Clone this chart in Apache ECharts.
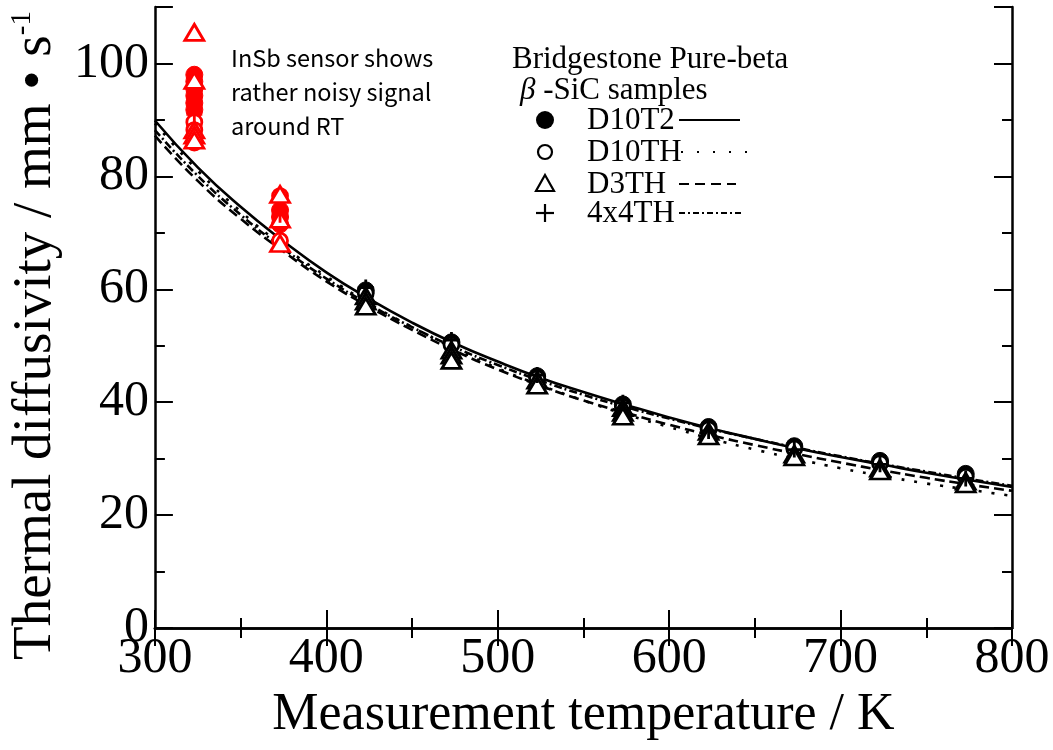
<!DOCTYPE html>
<html>
<head>
<meta charset="utf-8">
<script src="https://cdn.jsdelivr.net/npm/echarts@6/dist/echarts.min.js"></script>
<style>html,body{margin:0;padding:0;background:#fff}#c{width:1053px;height:750px}</style>
</head>
<body>
<div id="c"></div>
<script>
// ---- data ----
const xTicks = [300, 400, 500, 600, 700, 800];
const yTicks = [0, 20, 40, 60, 80, 100];
const fitTemps = [300,325,350,375,400,425,450,475,500,525,550,575,600,625,650,675,700,725,750,775,800];
const fitD10T2 = [89.9,81.6,74.6,68.5,63.0,58.3,54.1,50.4,47.2,44.3,41.8,39.5,37.3,35.3,33.5,31.8,30.3,28.9,27.5,26.2,25.0];
const fitD10TH = [89.4,81.0,73.8,67.6,62.3,57.5,53.3,49.5,46.0,43.0,40.3,37.8,35.6,33.5,31.6,29.9,28.3,26.9,25.6,24.5,23.4];
const fitD3TH  = [87.2,79.2,72.5,66.7,61.4,56.9,52.8,49.1,45.8,42.9,40.3,38.1,36.0,34.1,32.4,30.8,29.3,27.9,26.6,25.4,24.3];
const fit4x4TH = [88.2,80.1,73.2,67.2,61.9,57.3,53.3,49.7,46.6,43.8,41.3,39.1,37.1,35.2,33.5,31.9,30.4,29.0,27.7,26.4,25.2];

// measured points around RT (InSb sensor, red)
const rtD10T2 = [[323,98.0],[323,96.8],[323,95.5],[323,94.3],[323,93.0],[323,91.8],[373,74.0],[373,72.8],[373,71.5]];
const rtD10TH = [[323,89.6],[323,88.2],[323,86.0],[373,76.5],[373,68.6]];
const rtD3TH  = [[323,105.5],[323,97.0],[323,88.2],[323,87.3],[323,86.4],[373,76.8],[373,72.4],[373,68.1]];
const rt4x4TH = [[323,94.0],[323,91.0],[373,73.2]];

// measured points at higher temperature (black)
const hiD10T2 = [[423,59.8],[473,50.6],[523,44.6],[573,39.6],[623,35.6],[673,32.2],[723,29.6],[773,27.3]];
const hiD10TH = [[423,59.3],[473,50.2],[523,44.2],[573,39.2],[623,35.2],[673,31.8],[723,29.2],[773,26.8]];
const hiD3TH  = [[423,58.8],[423,57.9],[423,57.0],[473,49.2],[473,48.3],[473,47.4],[523,43.9],[523,43.0],
                 [573,39.0],[573,38.2],[573,37.5],[623,34.8],[623,34.0],[673,30.8],[673,30.3],[723,28.3],[723,27.8],[773,26.0],[773,25.5]];
const hi4x4TH = [[423,60.3],[473,51.0],[523,44.8],[573,39.9],[623,34.9],[673,31.6],[723,29.0],[773,26.5]];

const sampleNames = ['D10T2', 'D10TH', 'D3TH', '4x4TH'];
const noteLines = ['InSb sensor shows', 'rather noisy signal', 'around RT'];

// ---- chart ----
const SERIF = '"Liberation Serif", "Times New Roman", serif';
const RED = '#ff0000';
const BLK = '#000000';
const PLUS = 'path://M7,0L7,14M0,7L14,7';

const chart = echarts.init(document.getElementById('c'), null, {renderer: 'canvas'});

function fitLine(temps, vals, dash, width) {
  return {
    type: 'line', data: temps.map((t, i) => [t, vals[i]]), smooth: true, showSymbol: false, silent: true,
    lineStyle: {color: BLK, width: width, type: dash}, z: 2
  };
}
function pts(data, kind, color) {
  const s = {type: 'scatter', data: data, silent: true, z: color === RED ? 5 : 4};
  if (kind === 'filled') { s.symbol = 'circle'; s.symbolSize = 17; s.itemStyle = {color: color, borderColor: color, borderWidth: 1, opacity: 1}; }
  if (kind === 'open') { s.symbol = 'circle'; s.symbolSize = 15; s.itemStyle = {color: '#fff', borderColor: color, borderWidth: 2.8, opacity: 1}; }
  if (kind === 'tri') { s.symbol = 'triangle'; s.symbolSize = [19, 16]; s.itemStyle = {color: '#fff', borderColor: color, borderWidth: 2.8, opacity: 1}; }
  if (kind === 'plus') { s.symbol = PLUS; s.symbolSize = 16; s.itemStyle = {color: 'none', borderColor: color, borderWidth: 2.8, opacity: 1}; }
  return s;
}

const tickStyle = {color: BLK, width: 2};
const axisLineStyle = {lineStyle: {color: BLK, width: 2.5}};

const legendX = 545, textX = 587, lineX1 = 679;
const rowsY = [120, 152, 184, 213];

const graphic = [
  {type: 'text', x: 512, y: 60, style: {text: 'Bridgestone Pure-beta', fontSize: 31, fontFamily: SERIF, fill: BLK, verticalAlign: 'middle', textVerticalAlign: 'middle'}},
  {type: 'text', x: 520, y: 91, style: {text: '{i|β} -SiC samples', fontSize: 31, fontFamily: SERIF, fill: BLK, verticalAlign: 'middle', textVerticalAlign: 'middle',
     rich: {i: {fontStyle: 'italic', fontSize: 31, fontFamily: SERIF, fill: BLK}}}},
  {type: 'circle', shape: {cx: legendX, cy: rowsY[0], r: 9}, style: {fill: BLK}},
  {type: 'circle', shape: {cx: legendX, cy: rowsY[1], r: 7}, style: {fill: '#fff', stroke: BLK, lineWidth: 2.2}},
  {type: 'polygon', shape: {points: [[legendX, rowsY[2] - 9], [legendX + 9, rowsY[2] + 7], [legendX - 9, rowsY[2] + 7]]}, style: {fill: '#fff', stroke: BLK, lineWidth: 2.2}},
  {type: 'line', shape: {x1: legendX - 9, y1: rowsY[3], x2: legendX + 9, y2: rowsY[3]}, style: {stroke: BLK, lineWidth: 2.2}},
  {type: 'line', shape: {x1: legendX, y1: rowsY[3] - 9, x2: legendX, y2: rowsY[3] + 9}, style: {stroke: BLK, lineWidth: 2.2}},
  {type: 'line', shape: {x1: lineX1, y1: rowsY[0], x2: 740, y2: rowsY[0]}, style: {stroke: BLK, lineWidth: 2}},
  {type: 'line', shape: {x1: lineX1 + 2, y1: rowsY[1], x2: 750, y2: rowsY[1]}, style: {stroke: BLK, lineWidth: 2, lineDash: [2, 14]}},
  {type: 'line', shape: {x1: lineX1, y1: rowsY[2], x2: 736, y2: rowsY[2]}, style: {stroke: BLK, lineWidth: 2, lineDash: [10, 6]}},
  {type: 'line', shape: {x1: lineX1, y1: rowsY[3], x2: 742, y2: rowsY[3]}, style: {stroke: BLK, lineWidth: 2, lineDash: [6, 3, 2, 3]}}
];
sampleNames.forEach((n, i) => {
  graphic.push({type: 'text', x: textX, y: rowsY[i] + 1, style: {text: n, fontSize: 31, fontFamily: SERIF, fill: BLK, verticalAlign: 'middle', textVerticalAlign: 'middle'}});
});
noteLines.forEach((t, i) => {
  graphic.push({type: 'text', x: 231, y: 58 + i * 34, style: {text: t, fontSize: 23.5, fontFamily: '"Noto Sans CJK JP", "Noto Sans", sans-serif', fill: BLK, verticalAlign: 'middle', textVerticalAlign: 'middle'}});
});

const option = {
  backgroundColor: '#fff',
  animation: false,
  grid: {left: 145, right: 41, top: 7, bottom: 122, containLabel: false},
  xAxis: [
    {type: 'value', position: 'bottom', min: xTicks[0], max: xTicks[xTicks.length - 1], interval: 100,
     axisLine: axisLineStyle, axisTick: {inside: true, length: 18, lineStyle: tickStyle},
     minorTick: {show: true, splitNumber: 2, length: 10, lineStyle: tickStyle},
     splitLine: {show: false},
     axisLabel: {fontSize: 50, fontFamily: SERIF, color: BLK, margin: 6},
     name: 'Measurement temperature / K', nameLocation: 'middle', nameGap: 60,
     nameTextStyle: {fontSize: 52, fontFamily: SERIF, color: BLK}},
    {type: 'value', position: 'top', min: xTicks[0], max: xTicks[xTicks.length - 1], interval: 100,
     axisLine: axisLineStyle, axisTick: {inside: true, length: 18, lineStyle: tickStyle},
     minorTick: {show: true, splitNumber: 2, length: 10, lineStyle: tickStyle},
     splitLine: {show: false}, axisLabel: {show: false}}
  ],
  yAxis: [
    {type: 'value', position: 'left', min: yTicks[0], max: 110, interval: 20,
     axisLine: axisLineStyle, axisTick: {inside: true, length: 18, lineStyle: tickStyle},
     splitLine: {show: false},
     axisLabel: {fontSize: 50, fontFamily: SERIF, color: BLK, margin: 6,
       formatter: v => (yTicks.indexOf(v) >= 0 ? String(v) : '')},
     name: 'Thermal diffusivity / mm • s{sup|-1}', nameLocation: 'middle', nameGap: 80,
     nameTextStyle: {fontSize: 55, fontFamily: SERIF, color: BLK, padding: [0, 36, 0, 0],
       rich: {sup: {fontSize: 29, fontFamily: SERIF, color: BLK, verticalAlign: 'top', padding: [0, 0, 24, 0]}}}},
    {type: 'value', position: 'right', min: yTicks[0], max: 110, interval: 20,
     axisLine: axisLineStyle, axisTick: {inside: true, length: 18, lineStyle: tickStyle},
     splitLine: {show: false}, axisLabel: {show: false}},
    {type: 'value', position: 'left', min: 0, max: 110, interval: 10,
     axisLine: {show: false}, axisTick: {inside: true, length: 10, lineStyle: tickStyle},
     splitLine: {show: false}, axisLabel: {show: false}},
    {type: 'value', position: 'right', min: 0, max: 110, interval: 10,
     axisLine: {show: false}, axisTick: {inside: true, length: 10, lineStyle: tickStyle},
     splitLine: {show: false}, axisLabel: {show: false}}
  ],
  graphic: graphic,
  series: [
    fitLine(fitTemps, fitD10T2, 'solid', 2.6),
    fitLine(fitTemps, fitD10TH, [3, 10], 2.6),
    fitLine(fitTemps, fitD3TH, [10, 5], 2.6),
    fitLine(fitTemps, fit4x4TH, [8, 3, 2, 3], 2.6),
    pts(hiD10T2, 'filled', BLK),
    pts(hiD10TH, 'open', BLK),
    pts(hiD3TH, 'tri', BLK),
    pts(hi4x4TH, 'plus', BLK),
    pts(rtD10T2, 'filled', RED),
    pts(rtD10TH, 'open', RED),
    pts(rtD3TH, 'tri', RED),
    pts(rt4x4TH, 'plus', RED)
  ]
};
chart.setOption(option);
</script>
</body>
</html>
